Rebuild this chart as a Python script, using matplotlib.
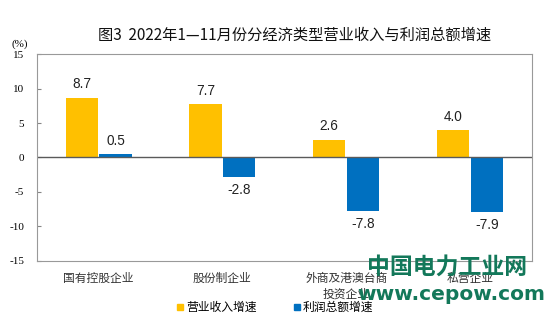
import matplotlib.pyplot as plt
import numpy as np

plt.rcParams['font.family'] = ['Noto Sans CJK SC', 'DejaVu Sans']

categories = ['国有控股企业', '股份制企业', '外商及港澳台商\n投资企业', '私营企业']
revenue = [8.7, 7.7, 2.6, 4.0]
profit = [0.5, -2.8, -7.8, -7.9]
series_names = ['营业收入增速', '利润总额增速']
colors = ['#FFC000', '#0070C0']

fig = plt.figure(figsize=(5.54, 3.21), dpi=100)
ax = fig.add_axes([0.0662, 0.188, 0.894, 0.643])

x = np.arange(len(categories))
w = 0.26
off = 0.137
b1 = ax.bar(x - off, revenue, w, color=colors[0], label=series_names[0])
b2 = ax.bar(x + off, profit, w, color=colors[1], label=series_names[1])

for bars in (b1, b2):
    for r in bars:
        v = r.get_height()
        y = v + 0.9 if v >= 0 else v - 0.9
        ax.text(r.get_x() + r.get_width() / 2, y, f'{v:.1f}',
                ha='center', va='bottom' if v >= 0 else 'top',
                family='Liberation Sans', fontsize=9.8, color='#222222')

ax.axhline(0, color='#5a5a5a', lw=1)
ax.set_xlim(-0.5, 3.5)
ax.set_ylim(-15, 15)
ax.set_yticks(range(-15, 16, 5))
ax.set_yticklabels([str(t) for t in range(-15, 16, 5)], family='Liberation Serif', fontsize=8)
ax.tick_params(axis='y', direction='in', length=3, color='#868686', pad=9)
ax.set_xticks(x)
ax.set_xticklabels(categories, fontsize=8.5, color='#333333', linespacing=1.25)
ax.tick_params(axis='x', length=0, pad=8)
for s in ax.spines.values():
    s.set_color('#999999')
    s.set_linewidth(0.8)

fig.text(0.036, 0.855, '(%)', family='Liberation Serif', fontsize=8, ha='center')
fig.text(0.531, 0.89, '图3  2022年1—11月份分经济类型营业收入与利润总额增速',
         fontsize=11, ha='center', va='center', color='#111111')

handles = [plt.Line2D([], [], marker='s', ls='', color=c, markersize=5) for c in colors]
fig.legend(handles, series_names, loc='center', bbox_to_anchor=(0.495, 0.043), ncol=2,
           frameon=False, fontsize=8.5, handletextpad=0.1, columnspacing=3.0,
           handlelength=0.8)

fig.text(0.807, 0.168, '中国电力工业网', fontsize=16.5, fontweight='bold',
         color='#13785a', ha='center', va='center')
fig.text(0.815, 0.083, 'www.cepow.com', family='DejaVu Sans', fontsize=14.5,
         fontweight='bold', color='#13785a', ha='center', va='center')

fig.savefig('out.png', dpi=100)
